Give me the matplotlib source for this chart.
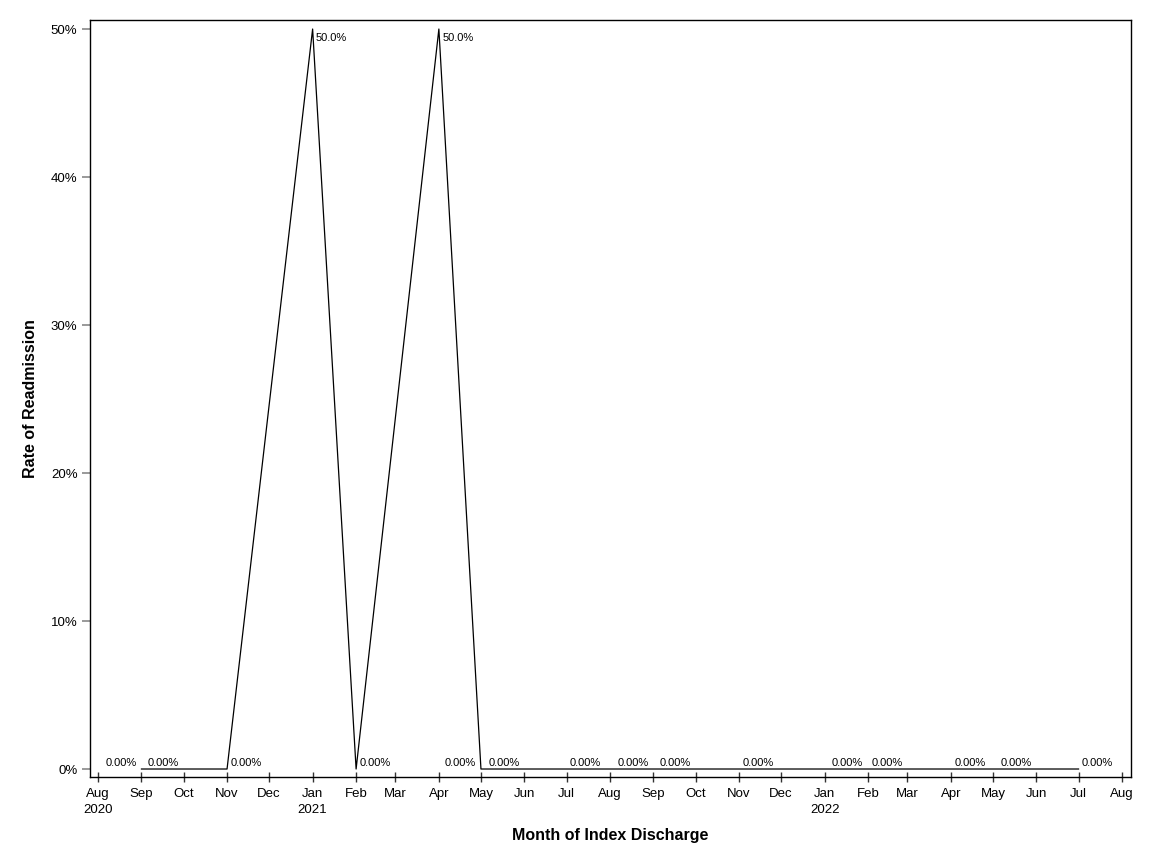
import datetime as dt
import matplotlib
matplotlib.use("Agg")
import matplotlib.pyplot as plt
from matplotlib.ticker import PercentFormatter

# monthly readmission rate by month of index discharge
months = ["2020-09", "2020-10", "2020-11", "2021-01", "2021-02", "2021-04",
          "2021-05", "2021-06", "2021-07", "2021-09", "2021-10", "2021-11",
          "2022-02", "2022-03", "2022-04", "2022-06", "2022-07"]
rates = [0.0, 0.0, 0.0, 0.5, 0.0, 0.5,
         0.0, 0.0, 0.0, 0.0, 0.0, 0.0,
         0.0, 0.0, 0.0, 0.0, 0.0]
# which side of the point the data label sits on
label_side = ["L", "L", "R", "R", "R", "R",
              "L", "L", "R", "L", "L", "R",
              "L", "L", "R", "L", "R"]

yticks = [0, 0.1, 0.2, 0.3, 0.4, 0.5]
year_ticks = {(2020, 8), (2021, 1), (2022, 1)}

plt.rcParams["font.family"] = ["Liberation Sans", "DejaVu Sans"]

dates = [dt.datetime.strptime(m, "%Y-%m") for m in months]


def fmt(v):
    return f"{v * 100:.1f}%" if v >= 0.1 else f"{v * 100:.2f}%"


fig = plt.figure(figsize=(11.52, 8.64), dpi=100)
ax = fig.add_axes([90 / 1152, 87 / 864, 1041 / 1152, 757 / 864])

ax.plot(dates, rates, color="black", lw=0.9)

for d, v, s in zip(dates, rates, label_side):
    dx = 2.5 if s == "R" else -3.5
    ha = "left" if s == "R" else "right"
    if v > 0:
        ax.annotate(fmt(v), (d, v), xytext=(dx, -3.2), textcoords="offset points",
                    ha=ha, va="top", fontsize=8)
    else:
        ax.annotate(fmt(v), (d, v), xytext=(dx, 0.8), textcoords="offset points",
                    ha=ha, va="bottom", fontsize=8)

# x axis: monthly ticks, year under Aug 2020 / Jan
tick_dates = [dt.datetime(2020 + (7 + i) // 12, (7 + i) % 12 + 1, 1) for i in range(25)]
tick_labels = [d.strftime("%b") + ("\n" + str(d.year) if (d.year, d.month) in year_ticks else "")
               for d in tick_dates]
ax.set_xticks(tick_dates)
ax.set_xticklabels(tick_labels, fontsize=9.5, linespacing=1.5)
ax.set_xlim(dt.datetime(2020, 8, 1) - dt.timedelta(days=5.7),
            dt.datetime(2022, 8, 1) + dt.timedelta(days=6.4))
ax.tick_params(axis="x", direction="inout", length=7, width=1, pad=4.2, color="#333333")

ax.set_yticks(yticks)
ax.yaxis.set_major_formatter(PercentFormatter(1.0, decimals=0))
ax.set_ylim(-0.0054, 0.5061)
ax.tick_params(axis="y", direction="out", length=6, width=1.2, pad=3, labelsize=9.5, color="#888888")

for sp in ax.spines.values():
    sp.set_linewidth(1.0)

ax.set_xlabel("Month of Index Discharge", fontsize=11.5, fontweight="bold")
ax.set_ylabel("Rate of Readmission", fontsize=11.5, fontweight="bold")
ax.xaxis.set_label_coords(0.5, -0.068)
ax.yaxis.set_label_coords(-0.05, 0.5)

fig.savefig("out.png", dpi=100)
